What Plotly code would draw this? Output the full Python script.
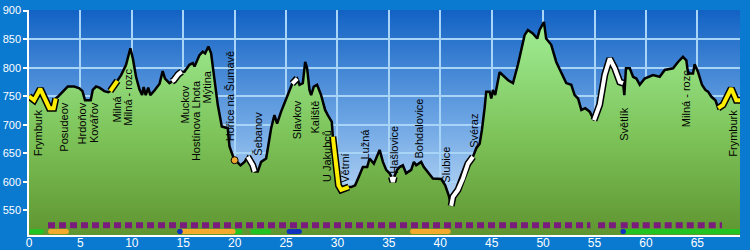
import base64
import numpy as np
import plotly.graph_objects as go

# ---------------- data ----------------
profile_km = [0.0, 0.5, 1.1, 1.65, 1.98, 2.4, 2.6, 2.8, 3.28, 3.77, 4.4, 4.9, 5.2, 5.45, 6.0, 6.2, 6.52,
              6.85, 7.33, 7.7, 7.9, 8.05, 8.5, 8.6, 8.96, 9.44, 9.86, 10.1, 10.41, 10.74, 11.0, 11.15,
              11.35, 11.6, 11.8, 12.2, 12.7, 13.0, 13.23, 13.66, 13.9, 14.08, 14.5, 14.85, 15.12,
              15.6, 15.93, 16.1, 16.58, 16.9, 17.13, 17.45, 17.71, 18.04, 18.36, 18.75, 19.33, 19.5,
              19.92, 20.24, 20.57, 20.96, 21.28, 21.5, 21.77, 21.95, 22.25, 22.58, 23.06, 23.23,
              23.55, 23.87, 24.13, 24.52, 25.0, 25.49, 25.6, 25.75, 26.08, 26.31, 26.63, 26.86,
              27.05, 27.28, 27.44, 27.7, 28.02, 28.41, 28.8, 29.06, 29.45, 29.55, 29.87, 30.1,
              30.36, 30.94, 31.1, 31.33, 31.72, 32.15, 32.47, 32.89, 33.12, 33.54, 34.1, 34.42,
              34.74, 35.07, 35.25, 35.39, 35.52, 35.8, 36.04, 36.36, 36.68, 37.17, 37.43, 37.66,
              38.14, 38.4, 38.79, 39.28, 40.09, 40.48, 40.81, 41.06, 41.23, 41.72, 42.2, 42.69,
              43.18, 43.5, 43.83, 44.05, 44.31, 44.47, 44.8, 44.96, 45.12, 45.34, 45.77, 46.1,
              46.6, 47.07, 47.55, 48.2, 48.52, 49.0, 49.43, 49.66, 50.08, 50.3, 50.79, 51.28,
              51.77, 52.25, 52.74, 53.07, 53.4, 53.72, 54.1, 54.53, 54.95, 55.5, 55.99, 56.48,
              56.97, 57.46, 57.78, 57.9, 58.06, 58.43, 58.75, 59.07, 59.4, 59.88, 60.69, 61.34,
              61.83, 62.64, 63.12, 63.6, 63.93, 64.1, 64.58, 64.74, 65.06, 65.45, 65.78, 66.04,
              66.37, 66.76, 67.03, 67.5, 68.3, 68.79, 69.15]
profile_elev = [750, 743, 763, 740, 729, 729, 746, 749, 758, 767, 767, 764, 759, 743, 743, 761, 767,
                765, 759, 757, 759, 763, 773, 777, 787, 805, 834, 816, 784, 762, 752, 766,
                752, 765, 752, 760, 772, 794, 781, 773, 776, 778, 788, 793, 793,
                805, 808, 802, 822, 828, 825, 837, 825, 775, 735, 697, 694, 662,
                641, 635, 629, 635, 644, 638, 629, 618, 618, 635, 641, 659,
                694, 717, 702, 723, 746, 770, 772, 775, 781, 770, 773, 810,
                799, 761, 752, 767, 770, 752, 726, 717, 705, 679, 635, 594,
                586, 591, 591, 591, 594, 612, 626, 626, 641, 632, 656, 635,
                621, 615, 609, 600, 609, 621, 626, 629, 615, 621, 635, 629,
                635, 626, 618, 606, 605, 594, 577, 558, 574, 586, 606, 632,
                644, 659, 667, 691, 729, 758, 758, 746, 761, 752, 792, 787,
                778, 773, 805, 857, 866, 860, 851, 866, 880, 851, 840, 810,
                790, 773, 770, 752, 746, 726, 729, 723, 708, 735, 787, 816,
                799, 775, 773, 752, 799, 799, 784, 781, 770, 781, 787, 784,
                796, 799, 810, 819, 813, 790, 790, 806, 793, 770, 761, 758,
                749, 743, 729, 735, 764, 743, 743]

yellow_ranges = [(0.0, 2.6), (7.9, 8.6), (29.55, 31.1), (67.03, 69.15)]
white_ranges = [(13.9, 14.85), (21.28, 21.95), (25.6, 26.08), (35.25, 35.52), (41.06, 43.18), (54.95, 57.78)]
orange_point_km = [20.0]
orange_point_elev = [638]

place_names = ["Frymburk", "Posudeov", "Hrdoňov", "Kovářov", "Milná", "Milná - rozc", "Muckov",
               "Hostínova Lhota", "Mýtina", "Hořice na Šumavě", "Šebanov", "Slavkov", "Kaliště",
               "U Jakubců", "Větrní", "Lužná", "Hašlovice", "Bohdalovice", "Slubice", "Svéraz",
               "Světlík", "Milná - rozc", "Frymburk"]
place_km = [0.85, 3.44, 5.17, 6.26, 8.53, 9.6, 15.22, 16.25, 17.29, 19.5, 22.25, 26.08, 27.77,
            28.97, 30.7, 32.64, 35.5, 37.9, 40.6, 43.2, 57.87, 63.84, 68.47]
place_label_top = [731, 742, 743, 743, 755, 802, 773, 781, 799, 834, 726, 746, 746,
                   694, 653, 697, 702, 749, 666, 723, 735, 799, 729]

dot_segments = [(1.85, 54.6), (55.35, 56.1), (56.4, 57.2), (57.55, 67.4)]
dot_level = 524
bar_level = 513
green_bars = [(0.25, 1.2), (19.85, 20.5), (21.8, 23.3), (57.9, 69.0)]
orange_bars = [(2.1, 3.64), (15.0, 19.85), (37.3, 40.77)]
blue_bars = [(14.66, 14.7), (25.3, 26.3), (57.77, 57.8)]

x_ticks = [0, 5, 10, 15, 20, 25, 30, 35, 40, 45, 50, 55, 60, 65]
y_ticks = [550, 600, 650, 700, 750, 800, 850, 900]

# ---------------- figure ----------------
km = np.array(profile_km)
el = np.array(profile_elev)

fig = go.Figure()

fig.add_trace(go.Scatter(
    x=km, y=el, mode="lines", fill="tozeroy",
    line=dict(color="black", width=2.5),
    fillgradient=dict(type="vertical", start=507, stop=880,
                      colorscale=[[0, "#5f9530"], [0.45, "#7cc258"], [1, "#a0ee95"]]),
    hoverinfo="skip", showlegend=False))


def add_highlight(ranges, color):
    for a, b in ranges:
        m = (km >= a - 1e-9) & (km <= b + 1e-9)
        fig.add_trace(go.Scatter(x=km[m], y=el[m], mode="lines",
                                 line=dict(color="black", width=7),
                                 hoverinfo="skip", showlegend=False))
        fig.add_trace(go.Scatter(x=km[m], y=el[m], mode="lines",
                                 line=dict(color=color, width=4),
                                 hoverinfo="skip", showlegend=False))


add_highlight(yellow_ranges, "#ffee00")
add_highlight(white_ranges, "#ffffff")

fig.add_trace(go.Scatter(x=orange_point_km, y=orange_point_elev, mode="markers",
                         marker=dict(color="#f0a830", size=7, line=dict(color="black", width=1)),
                         hoverinfo="skip", showlegend=False))

for a, b in dot_segments:
    fig.add_trace(go.Scatter(x=[a, b], y=[dot_level, dot_level], mode="lines",
                             line=dict(color="#7a1c7c", width=6, dash="7px,4px"),
                             hoverinfo="skip", showlegend=False))

for segs, color in ((green_bars, "#22c422"), (orange_bars, "#f4aa2c"), (blue_bars, "#1030c0")):
    for a, b in segs:
        fig.add_trace(go.Scatter(x=[a, b], y=[bar_level, bar_level], mode="lines+markers",
                                 line=dict(color=color, width=5),
                                 marker=dict(color=color, size=5),
                                 hoverinfo="skip", showlegend=False))

for name, x, top in zip(place_names, place_km, place_label_top):
    fig.add_annotation(x=x, y=top, text=name, textangle=-90, showarrow=False,
                       xanchor="center", yanchor="top",
                       font=dict(family="Arial, Liberation Sans", size=11, color="black"))

svg = ('<svg xmlns="http://www.w3.org/2000/svg" width="10" height="100" viewBox="0 0 10 100" '
       'preserveAspectRatio="none"><defs><linearGradient id="g" x1="0" y1="0" x2="0" y2="1">'
       '<stop offset="0" stop-color="#1262c4"/><stop offset="0.5" stop-color="#6ea6e4"/>'
       '<stop offset="1" stop-color="#d4e9fb"/></linearGradient></defs>'
       '<rect width="10" height="100" fill="url(#g)"/></svg>')
src = "data:image/svg+xml;base64," + base64.b64encode(svg.encode()).decode()

fig.update_layout(
    width=750, height=250,
    margin=dict(l=29, r=10, t=10, b=15),
    paper_bgcolor="#0a79d0", plot_bgcolor="rgba(0,0,0,0)",
    showlegend=False,
    images=[dict(source=src, xref="paper", yref="paper", x=0, y=1, sizex=1, sizey=1,
                 xanchor="left", yanchor="top", sizing="stretch", layer="below")],
    xaxis=dict(range=[0, 69.15], tickvals=x_ticks, showgrid=True, gridcolor="#a8d4f8",
               gridwidth=1.5, zeroline=False, showline=True, linecolor="white", linewidth=1.5,
               ticks="", ticklabelstandoff=-4,
               tickfont=dict(family="Arial, Liberation Sans", size=12, color="white"),
               automargin=False, fixedrange=True),
    yaxis=dict(range=[507, 901], tickvals=y_ticks, showgrid=True, gridcolor="#a8d4f8",
               gridwidth=1.5, zeroline=False, showline=True, linecolor="white", linewidth=1.5,
               ticks="outside", ticklen=4, tickcolor="white", tickwidth=1.5,
               tickfont=dict(family="Arial, Liberation Sans", size=11, color="white"),
               automargin=False, fixedrange=True),
)

fig.write_html("out.html", config={"displayModeBar": False})
